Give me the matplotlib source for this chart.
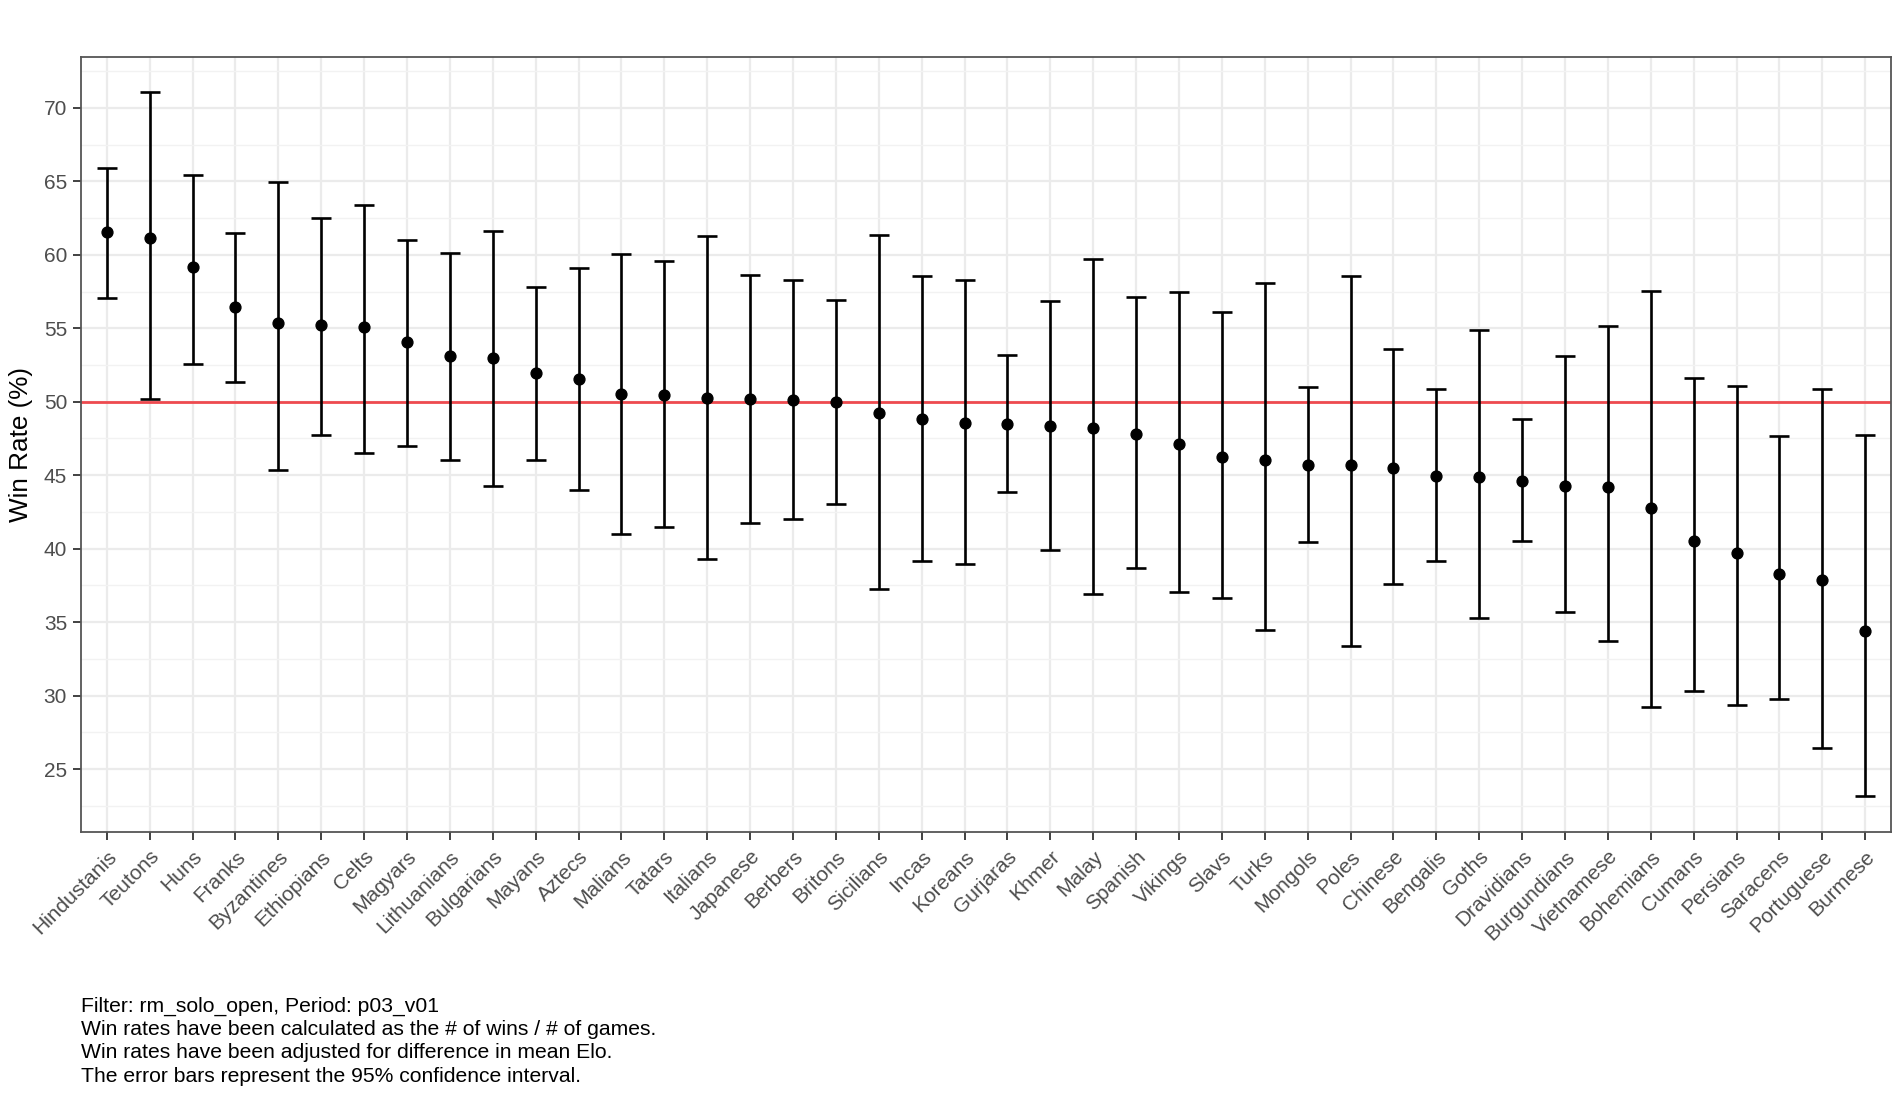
import matplotlib
matplotlib.use("Agg")
import matplotlib.pyplot as plt
from matplotlib.ticker import MultipleLocator
from matplotlib.transforms import ScaledTranslation

plt.rcParams['font.family'] = ['Liberation Sans', 'DejaVu Sans']

civs = ["Hindustanis", "Teutons", "Huns", "Franks", "Byzantines", "Ethiopians", "Celts",
        "Magyars", "Lithuanians", "Bulgarians", "Mayans", "Aztecs", "Malians", "Tatars",
        "Italians", "Japanese", "Berbers", "Britons", "Sicilians", "Incas", "Koreans",
        "Gurjaras", "Khmer", "Malay", "Spanish", "Vikings", "Slavs", "Turks", "Mongols",
        "Poles", "Chinese", "Bengalis", "Goths", "Dravidians", "Burgundians", "Vietnamese",
        "Bohemians", "Cumans", "Persians", "Saracens", "Portuguese", "Burmese"]

win_rate = [61.55, 61.13, 59.14, 56.44, 55.37, 55.22, 55.10, 54.08, 53.13, 52.99, 51.93,
            51.54, 50.52, 50.48, 50.27, 50.18, 50.14, 49.98, 49.25, 48.84, 48.53, 48.46,
            48.34, 48.23, 47.78, 47.14, 46.21, 46.04, 45.70, 45.68, 45.46, 44.94, 44.88,
            44.63, 44.25, 44.17, 42.77, 40.55, 39.71, 38.30, 37.85, 34.40]

upper = [65.94, 71.09, 65.44, 61.47, 64.99, 62.49, 63.42, 61.02, 60.14, 61.61, 57.78,
         59.09, 60.05, 59.59, 61.27, 58.62, 58.30, 56.94, 61.38, 58.59, 58.28, 53.15,
         56.87, 59.75, 57.12, 57.48, 56.12, 58.07, 51.02, 58.59, 53.56, 50.84, 54.90,
         48.84, 53.13, 55.15, 57.55, 51.63, 51.07, 47.70, 50.86, 47.76]

lower = [57.03, 50.18, 52.59, 51.34, 45.37, 47.73, 46.53, 47.01, 46.05, 44.27, 46.05,
         43.98, 41.03, 41.45, 39.30, 41.75, 42.00, 43.04, 37.24, 39.17, 38.96, 43.88,
         39.94, 36.92, 38.67, 37.06, 36.63, 34.48, 40.46, 33.34, 37.62, 39.19, 35.27,
         40.50, 35.72, 33.68, 29.21, 30.34, 29.37, 29.76, 26.42, 23.13]

caption_lines = ["Filter: rm_solo_open, Period: p03_v01",
                 "Win rates have been calculated as the # of wins / # of games.",
                 "Win rates have been adjusted for difference in mean Elo.",
                 "The error bars represent the 95% confidence interval."]

W, H = 1900, 1114
fig = plt.figure(figsize=(W / 100, H / 100), dpi=100)
left, right, top, bottom = 81, 1891, 56.7, 831.7
ax = fig.add_axes([left / W, 1 - bottom / H, (right - left) / W, (bottom - top) / H])

x = list(range(1, len(civs) + 1))
yerr_lo = [w - l for w, l in zip(win_rate, lower)]
yerr_hi = [u - w for w, u in zip(win_rate, upper)]

grid_c = '#EBEBEB'
ax.set_axisbelow(True)
ax.axhline(50, color='#EE4A4F', lw=2.0, zorder=2)
ax.errorbar(x, win_rate, yerr=[yerr_lo, yerr_hi], fmt='o', color='black', ecolor='black',
            elinewidth=1.9, capsize=7.5, capthick=1.9, markersize=7.8, zorder=3)

ax.set_xlim(0.4, len(civs) + 0.6)
rng = max(upper) - min(lower)
ax.set_ylim(min(lower) - 0.05 * rng, max(upper) + 0.05 * rng)

ax.yaxis.set_major_locator(MultipleLocator(5))
ax.yaxis.set_minor_locator(MultipleLocator(2.5))
ax.set_xticks(x)
ax.set_xticklabels(civs, rotation=45, ha='right', va='top', rotation_mode='anchor')
offset = ScaledTranslation(4 / 100, 2 / 100, fig.dpi_scale_trans)
for lbl in ax.get_xticklabels():
    lbl.set_transform(lbl.get_transform() + offset)
ax.grid(which='major', color=grid_c, lw=1.6)
ax.grid(which='minor', axis='y', color='#F2F2F2', lw=1.0)
ax.tick_params(axis='both', which='major', length=6, width=1.3, color='#333333',
               labelcolor='#4D4D4D', labelsize=15, pad=4)
ax.tick_params(axis='y', which='minor', length=0)
ax.tick_params(axis='x', pad=5)
for s in ax.spines.values():
    s.set_color('#555555')
    s.set_linewidth(1.3)

ax.set_ylabel("Win Rate (%)", fontsize=18.8, color='black', labelpad=8)

ys = [1006, 1029.5, 1053, 1076.5]
for t, yy in zip(caption_lines, ys):
    fig.text(left / W, 1 - yy / H, t, ha='left', va='center', fontsize=15.2, color='black')

fig.savefig("out.png", dpi=100, facecolor='white')
